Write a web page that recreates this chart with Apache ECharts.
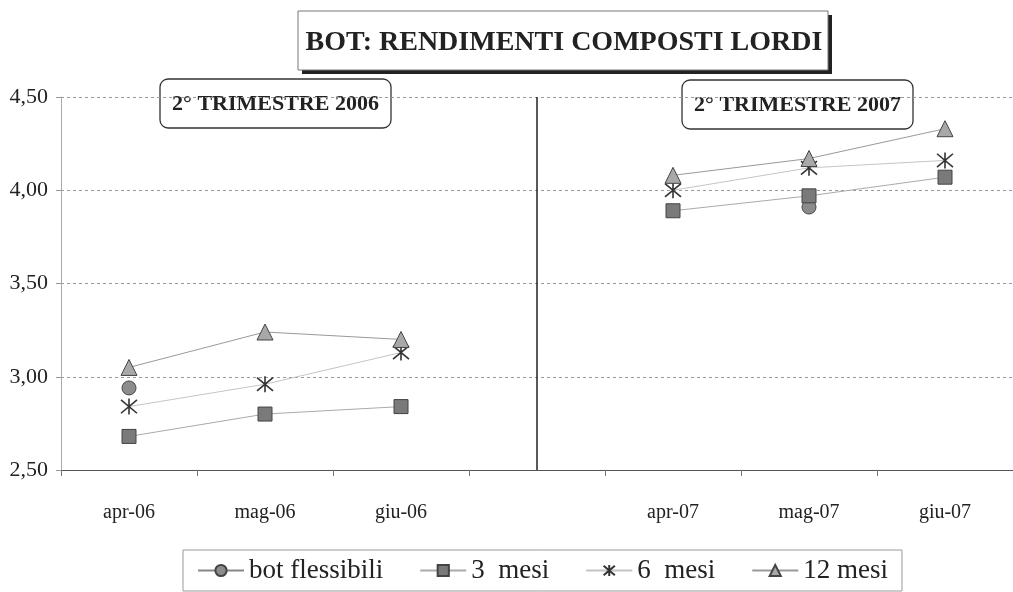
<!DOCTYPE html>
<html>
<head>
<meta charset="utf-8">
<script src="https://cdn.jsdelivr.net/npm/echarts@6/dist/echarts.min.js"></script>
<style>
  html, body { margin: 0; padding: 0; background: #fff; }
  #chart { width: 1013px; height: 592px; }
</style>
</head>
<body>
<div id="chart"></div>
<script>
// categories (empty slot = gap between the two quarters)
const months = ['apr-06', 'mag-06', 'giu-06', '', 'apr-07', 'mag-07', 'giu-07'];
const yTicks = [2.5, 3.0, 3.5, 4.0, 4.5];

// values
const botFlessibili = [2.94, null, null, null, null, 3.91, null];
const mesi3 = [2.68, 2.80, 2.84, null, 3.89, 3.97, 4.07];
const mesi6 = [2.84, 2.96, 3.13, null, 4.00, 4.12, 4.16];
const mesi12 = [3.05, 3.24, 3.20, null, 4.08, 4.17, 4.33];

const serif = 'Liberation Serif';
const starPath = 'path://M0,0L10,10M10,0L0,10M5,-1L5,11';

// rounded box with a bold label, used for the two quarter captions
function captionBox(x, y, w, h, text) {
  return {
    type: 'group',
    z: 100,
    children: [
      {
        type: 'rect',
        shape: { x: x, y: y, width: w, height: h, r: 8 },
        style: { fill: '#fff', stroke: '#333', lineWidth: 1.3 }
      },
      {
        type: 'text',
        x: x + w / 2,
        y: y + h / 2 + 1,
        style: {
          text: text,
          fill: '#222',
          font: 'bold 22px "Liberation Serif"',
          align: 'center',
          verticalAlign: 'middle'
        }
      }
    ]
  };
}

const myChart = echarts.init(document.getElementById('chart'));
myChart.setOption({
  animation: false,
  textStyle: { fontFamily: serif, color: '#222' },
  graphic: [
    // main title with a dark drop shadow on the right and bottom
    {
      type: 'rect',
      z: 100,
      shape: { x: 302, y: 15, width: 530, height: 59 },
      style: { fill: '#222' }
    },
    {
      type: 'rect',
      z: 101,
      shape: { x: 298, y: 11, width: 530, height: 59 },
      style: { fill: '#fff', stroke: '#777', lineWidth: 1 }
    },
    {
      type: 'text',
      z: 102,
      x: 564,
      y: 43,
      style: {
        text: 'BOT: RENDIMENTI COMPOSTI LORDI',
        fill: '#222',
        font: 'bold 28px "Liberation Serif"',
        align: 'center',
        verticalAlign: 'middle'
      }
    },
    captionBox(160, 79, 231, 49, '2° TRIMESTRE 2006'),
    captionBox(682, 80, 231, 49, '2° TRIMESTRE 2007')
  ],
  legend: {
    bottom: 1,
    left: 183,
    itemGap: 36,
    itemWidth: 46,
    itemHeight: 14,
    padding: [7, 14, 7, 14],
    backgroundColor: '#fff',
    borderColor: '#999',
    borderWidth: 1,
    textStyle: { fontFamily: serif, fontSize: 27, color: '#222' },
    data: ['bot flessibili', '3  mesi', '6  mesi', '12 mesi']
  },
  grid: {
    left: 61,
    width: 963,
    top: 97,
    bottom: 122
  },
  xAxis: {
    type: 'category',
    boundaryGap: true,
    data: months,
    axisLine: { lineStyle: { color: '#555', width: 1 } },
    axisTick: { show: true, length: 6, lineStyle: { color: '#777' } },
    axisLabel: {
      interval: 0,
      margin: 33,
      fontFamily: serif,
      fontSize: 20,
      color: '#222'
    }
  },
  yAxis: {
    type: 'value',
    min: yTicks[0],
    max: yTicks[yTicks.length - 1],
    interval: 0.5,
    axisLine: { show: true, lineStyle: { color: '#aaa' } },
    axisTick: { show: true, length: 5, lineStyle: { color: '#999' } },
    axisLabel: {
      margin: 13,
      fontFamily: serif,
      fontSize: 22,
      color: '#222',
      formatter: (v) => v.toFixed(2).replace('.', ',')
    },
    splitLine: {
      lineStyle: { color: '#999', type: [3, 3], width: 1 }
    }
  },
  series: [
    {
      name: 'bot flessibili',
      type: 'line',
      data: botFlessibili,
      symbol: 'circle',
      symbolSize: 14,
      itemStyle: { color: '#8c8c8c', borderColor: '#444', borderWidth: 1 },
      lineStyle: { color: '#888', width: 1 },
      markLine: {
        silent: true,
        symbol: 'none',
        label: { show: false },
        lineStyle: { color: '#222', type: 'solid', width: 1.5 },
        data: [{ xAxis: 3 }]
      }
    },
    {
      name: '3  mesi',
      type: 'line',
      data: mesi3,
      symbol: 'rect',
      symbolSize: 14,
      itemStyle: { color: '#7a7a7a', borderColor: '#444', borderWidth: 1 },
      lineStyle: { color: '#aaa', width: 1 }
    },
    {
      name: '6  mesi',
      type: 'line',
      data: mesi6,
      symbol: starPath,
      symbolSize: 16,
      itemStyle: { color: 'transparent', borderColor: '#333', borderWidth: 1.6 },
      lineStyle: { color: '#c4c4c4', width: 1 }
    },
    {
      name: '12 mesi',
      type: 'line',
      data: mesi12,
      symbol: 'triangle',
      symbolSize: 16,
      itemStyle: { color: '#a8a8a8', borderColor: '#444', borderWidth: 1 },
      lineStyle: { color: '#999', width: 1 }
    }
  ]
});
</script>
</body>
</html>
